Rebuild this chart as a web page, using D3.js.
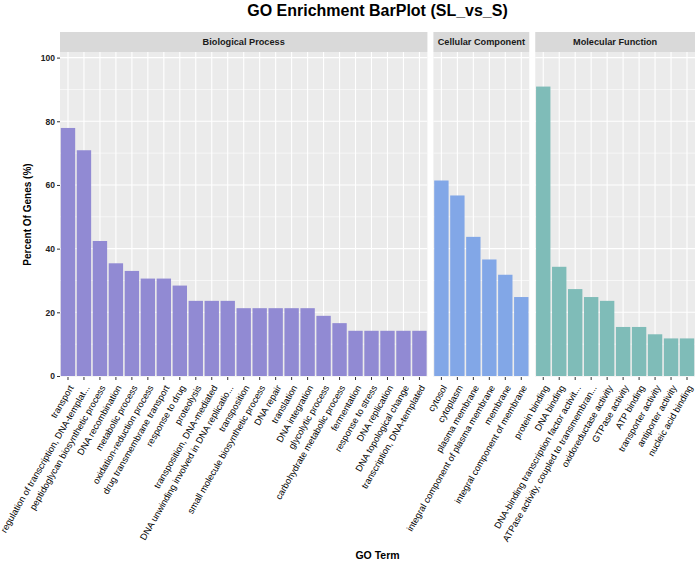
<!DOCTYPE html>
<html>
<head>
<meta charset="utf-8">
<script src="https://cdn.jsdelivr.net/npm/d3@7"></script>
<style>
  body { margin: 0; background: #fff; }
  svg { display: block; font-family: "Liberation Sans", Arial, Helvetica, sans-serif; }
</style>
</head>
<body>
<svg id="chart" width="696" height="562"></svg>
<script>
// ---- data ----
const bpTerms = ["transport", "regulation of transcription, DNA-templat...", "peptidoglycan biosynthetic process",
  "DNA recombination", "metabolic process", "oxidation-reduction process", "drug transmembrane transport",
  "response to drug", "proteolysis", "transposition, DNA-mediated", "DNA unwinding involved in DNA replicatio...",
  "transposition", "small molecule biosynthetic process", "DNA repair", "translation", "DNA integration",
  "glycolytic process", "carbohydrate metabolic process", "fermentation", "response to stress",
  "DNA replication", "DNA topological change", "transcription, DNA-templated"];
const bpValues = [77.9, 70.9, 42.4, 35.4, 33.0, 30.6, 30.6, 28.4, 23.6, 23.6, 23.6,
  21.3, 21.3, 21.3, 21.3, 21.3, 18.9, 16.6, 14.2, 14.2, 14.2, 14.2, 14.2];
const ccTerms = ["cytosol", "cytoplasm", "plasma membrane", "integral component of plasma membrane",
  "membrane", "integral component of membrane"];
const ccValues = [61.4, 56.7, 43.7, 36.6, 31.8, 24.8];
const mfTerms = ["protein binding", "DNA binding", "DNA-binding transcription factor activit...",
  "ATPase activity, coupled to transmembran...", "oxidoreductase activity", "GTPase activity",
  "ATP binding", "transporter activity", "antiporter activity", "nucleic acid binding"];
const mfValues = [90.9, 34.3, 27.3, 24.8, 23.6, 15.4, 15.4, 13.1, 11.8, 11.8];
const panelNames = ["Biological Process", "Cellular Component", "Molecular Function"];
const panelColors = ["#918AD3", "#82A7E7", "#7FBCB8"];
const yTicks = [0, 20, 40, 60, 80, 100];
const yMinor = [10, 30, 50, 70, 90];
const titleText = "GO Enrichment BarPlot (SL_vs_S)";
const yTitle = "Percent Of Genes (%)";
const xTitle = "GO Term";

// ---- layout ----
const svg = d3.select("#chart");
const left = 60, right = 695, gap = 6;
const stripTop = 32, stripBottom = 52, panelBottom = 377;
const panels = [
  {name: panelNames[0], terms: bpTerms, values: bpValues, color: panelColors[0]},
  {name: panelNames[1], terms: ccTerms, values: ccValues, color: panelColors[1]},
  {name: panelNames[2], terms: mfTerms, values: mfValues, color: panelColors[2]}
];
const nTotal = panels.reduce((s, p) => s + p.terms.length, 0);
const step = (right - left - gap * (panels.length - 1)) / nTotal;

const y = d3.scaleLinear().domain([0, 100]).range([376, 57.6]);

let x0 = left;
panels.forEach(p => {
  p.x0 = x0;
  p.x1 = x0 + step * p.terms.length;
  x0 = p.x1 + gap;
  p.x = d3.scaleBand().domain(p.terms).range([p.x0, p.x1]).paddingInner(0.1).paddingOuter(0.05);
});

// title
svg.append("text")
  .attr("x", (left + right) / 2).attr("y", 16)
  .attr("text-anchor", "middle")
  .attr("font-size", 16).attr("font-weight", "bold").attr("fill", "#000")
  .text(titleText);

panels.forEach(p => {
  const g = svg.append("g");
  // strip
  g.append("rect").attr("x", p.x0).attr("y", stripTop).attr("width", p.x1 - p.x0)
    .attr("height", stripBottom - stripTop).attr("fill", "#D9D9D9");
  g.append("text").attr("x", (p.x0 + p.x1) / 2).attr("y", (stripTop + stripBottom) / 2)
    .attr("dy", "0.35em").attr("text-anchor", "middle")
    .attr("font-size", 9.2).attr("font-weight", "bold").attr("fill", "#1A1A1A")
    .text(p.name);
  // panel background
  g.append("rect").attr("x", p.x0).attr("y", stripBottom).attr("width", p.x1 - p.x0)
    .attr("height", panelBottom - stripBottom).attr("fill", "#EBEBEB");
  // minor grid
  g.selectAll(".minor").data(yMinor).enter().append("line")
    .attr("x1", p.x0).attr("x2", p.x1)
    .attr("y1", d => y(d)).attr("y2", d => y(d))
    .attr("stroke", "#fff").attr("stroke-width", 0.6);
  // major grid
  g.selectAll(".majorY").data(yTicks).enter().append("line")
    .attr("x1", p.x0).attr("x2", p.x1)
    .attr("y1", d => y(d)).attr("y2", d => y(d))
    .attr("stroke", "#fff").attr("stroke-width", 1.1);
  g.selectAll(".majorX").data(p.terms).enter().append("line")
    .attr("x1", d => p.x(d) + p.x.bandwidth() / 2).attr("x2", d => p.x(d) + p.x.bandwidth() / 2)
    .attr("y1", stripBottom).attr("y2", panelBottom)
    .attr("stroke", "#fff").attr("stroke-width", 1.1);
  // bars
  g.selectAll(".bar").data(p.terms.map((t, i) => ({t, v: p.values[i]}))).enter().append("rect")
    .attr("x", d => p.x(d.t)).attr("width", p.x.bandwidth())
    .attr("y", d => y(d.v)).attr("height", d => y(0) - y(d.v))
    .attr("fill", p.color);
  // x axis
  const ax = g.append("g").attr("transform", `translate(0,${panelBottom})`)
    .call(d3.axisBottom(p.x).tickSize(3).tickPadding(2));
  ax.select(".domain").remove();
  ax.selectAll(".tick line").attr("stroke", "#333").attr("stroke-width", 1);
  ax.selectAll(".tick text")
    .attr("font-size", 9.2).attr("fill", "#000").attr("font-family", null)
    .attr("text-anchor", "end")
    .attr("transform", "translate(0,7) rotate(-60)")
    .attr("x", 0).attr("y", 0).attr("dy", "0.75em");
});

// y axis
const ay = svg.append("g").attr("transform", `translate(${left},0)`)
  .call(d3.axisLeft(y).tickValues(yTicks).tickSize(3).tickPadding(2));
ay.select(".domain").remove();
ay.selectAll(".tick line").attr("stroke", "#333");
ay.selectAll(".tick text").attr("font-size", 8.5).attr("font-weight", "bold")
  .attr("fill", "#222").attr("font-family", null);

// axis titles
svg.append("text")
  .attr("transform", `translate(27,${(stripBottom + panelBottom) / 2}) rotate(-90)`)
  .attr("text-anchor", "middle").attr("dy", "0.35em")
  .attr("font-size", 10).attr("font-weight", "bold").attr("fill", "#000")
  .text(yTitle);
svg.append("text")
  .attr("x", (left + right) / 2).attr("y", 559)
  .attr("text-anchor", "middle")
  .attr("font-size", 10.5).attr("font-weight", "bold").attr("fill", "#000")
  .text(xTitle);
</script>
</body>
</html>
